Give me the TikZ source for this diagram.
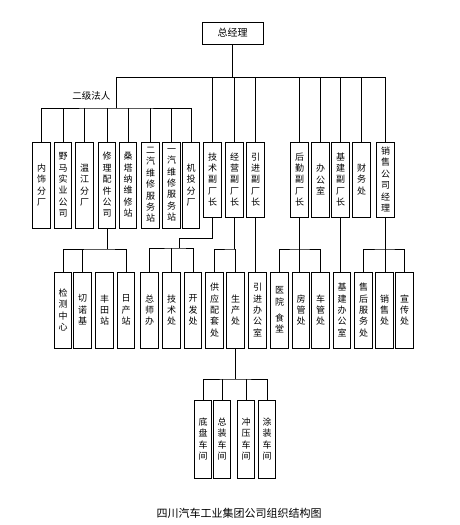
\documentclass[tikz,border=0pt]{standalone}
\usepackage{fontspec}
\newfontfamily\cjkfont{Noto Sans CJK SC}
\tikzset{
  unit/.style={draw, minimum width=17.5pt, inner sep=0pt, align=center,
    font=\cjkfont\fontsize{9}{11.4}\selectfont},
  tall/.style={unit, minimum height=86pt},
  mid/.style={unit, minimum height=75pt},
  low/.style={unit, minimum height=76pt},
  shop/.style={unit, minimum height=78pt}
}
\begin{document}
\begin{tikzpicture}[x=1pt, y=-1pt, line width=0.6pt]
  \useasboundingbox (0,0) rectangle (460,525);
  \node[draw, minimum width=61pt, minimum height=22pt, font=\cjkfont\fontsize{10}{12}\selectfont] (zjl) at (232.5,33) {总经理};
  % first row
  \node[tall] (nsfc) at (41.5,185) {内\\饰\\分\\厂};
  \node[tall] (ymsy) at (63,185) {野\\马\\实\\业\\公\\司};
  \node[tall] (wjfc) at (84.5,185) {温\\江\\分\\厂};
  \node[tall] (xlpj) at (107,185) {修\\理\\配\\件\\公\\司};
  \node[tall] (stn) at (128,185) {桑\\塔\\纳\\维\\修\\站};
  \node[tall] (eqwx) at (150.5,185) {二\\汽\\维\\修\\服\\务\\站};
  \node[tall] (yqwx) at (171.5,185) {一\\汽\\维\\修\\服\\务\\站};
  \node[tall] (jtfc) at (191,185) {机\\投\\分\\厂};
  \node[mid] (jsfcz) at (212.5,179.5) {技\\术\\副\\厂\\长};
  \node[mid] (jyfcz) at (234.5,179.5) {经\\营\\副\\厂\\长};
  \node[mid] (yjfcz) at (255.5,179.5) {引\\进\\副\\厂\\长};
  \node[mid] (hqfcz) at (299.5,179.5) {后\\勤\\副\\厂\\长};
  \node[mid] (bgs) at (320.5,179.5) {办\\公\\室};
  \node[mid] (jjfcz) at (340.5,179.5) {基\\建\\副\\厂\\长};
  \node[mid] (cwc) at (361.5,179.5) {财\\务\\处};
  \node[mid] (xsgs) at (385.5,179.5) {销\\售\\公\\司\\经\\理};
  % second row
  \node[low] (jczx) at (63,310) {检\\测\\中\\心};
  \node[low] (qnj) at (82.5,310) {切\\诺\\基};
  \node[low] (ftz) at (104.5,310) {丰\\田\\站};
  \node[low] (rcz) at (126,310) {日\\产\\站};
  \node[low] (zsb) at (149.5,310) {总\\师\\办};
  \node[low] (jsc) at (171.5,310) {技\\术\\处};
  \node[low] (kfc) at (193,310) {开\\发\\处};
  \node[low] (gyptc) at (214.5,310) {供\\应\\配\\套\\处};
  \node[low] (scc) at (235.5,310) {生\\产\\处};
  \node[low] (yjbgs) at (257.5,310) {引\\进\\办\\公\\室};
  \node[low] (yyst) at (279.5,310) {医\\院\\[5pt]食\\堂};
  \node[low] (fgc) at (301,310) {房\\管\\处};
  \node[low] (cgc) at (320.5,310) {车\\管\\处};
  \node[low] (jjbgs) at (342,310) {基\\建\\办\\公\\室};
  \node[low] (shfwc) at (363.5,310) {售\\后\\服\\务\\处};
  \node[low] (xsc) at (384.5,310) {销\\售\\处};
  \node[low] (xcc) at (404.5,310) {宣\\传\\处};
  % workshops
  \node[shop] (dpcj) at (203,439) {底\\盘\\车\\间};
  \node[shop] (zzcj) at (222,439) {总\\装\\车\\间};
  \node[shop] (cycj) at (246,439) {冲\\压\\车\\间};
  \node[shop] (tzcj) at (267,439) {涂\\装\\车\\间};

  \coordinate (top) at (116,77);
  \coordinate (fr) at (116,108);
  \node[font=\cjkfont\fontsize{9.5}{11}\selectfont, left] (ejfr) at (114,96) {二级法人};
  \draw (zjl.south) -- (zjl.south |- top);
  \draw (fr) |- (top) -| (xsgs.north);
  \foreach \n in {jsfcz,jyfcz,yjfcz,hqfcz,bgs,jjfcz,cwc} \draw (\n.north) -- (\n.north |- top);
  \draw (nsfc.north) |- (fr) -| (jtfc.north);
  \foreach \n in {ymsy,wjfc,xlpj,stn,eqwx,yqwx} \draw (\n.north) -- (\n.north |- fr);

  \coordinate (b1) at (104,249);
  \draw (xlpj.south) -- (xlpj.south |- b1);
  \draw (jczx.north) |- (b1) -| (rcz.north);
  \draw (qnj.north) -- (qnj.north |- b1);

  \coordinate (b2) at (179,248);
  \draw (jsfcz.south) -- ++(0,21) -| (b2);
  \draw (zsb.north) |- (b2) -| (kfc.north);
  \draw (jsc.north) -- (jsc.north |- b2);

  \coordinate (b3) at (234.5,249);
  \draw (jyfcz.south) -- (b3);
  \draw (gyptc.north) |- (b3) -| (scc.north);

  \draw (yjfcz.south) -- (yjfcz.south |- yjbgs.north);

  \coordinate (b4) at (299.5,249);
  \draw (hqfcz.south) -- (hqfcz.south |- fgc.north);
  \draw (yyst.north) |- (b4) -| (cgc.north);

  \draw (jjfcz.south) -- (jjfcz.south |- jjbgs.north);

  \coordinate (b5) at (385.5,249);
  \draw (xsgs.south) -- (xsgs.south |- xsc.north);
  \draw (shfwc.north) |- (b5) -| (xcc.north);

  \coordinate (b6) at (235.5,379);
  \draw (scc.south) -- (b6);
  \draw (dpcj.north) |- (b6) -| (tzcj.north);
  \foreach \n in {zzcj,cycj} \draw (\n.north) -- (\n.north |- b6);

  \node[font=\cjkfont\fontsize{11}{13}\selectfont] (title) at (239,513) {四川汽车工业集团公司组织结构图};
\end{tikzpicture}
\end{document}
